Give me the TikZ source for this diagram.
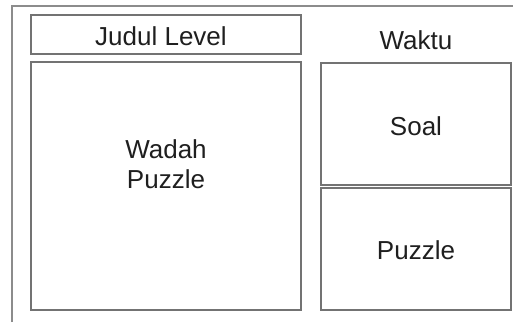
\documentclass[tikz,border=0pt]{standalone}
\usepackage{fontspec}
\setmainfont{Liberation Sans}
\begin{document}
\begin{tikzpicture}[x=1pt,y=-1pt,
  panel/.style={draw=black!55,line width=1.1pt,inner sep=0pt,outer sep=0pt,rectangle},
  lbl/.style={anchor=base,text=black!88,font=\fontsize{26}{31}\selectfont,inner sep=0pt}]
\useasboundingbox (0,0) rectangle (513,322);
\fill[white] (0,0) rectangle (513,322);
% outer frame
\draw[black!45,line width=1.3pt] (12,322) -- (12,6) -- (513,6);
% boxes
\node[panel,minimum width=270pt,minimum height=39pt] (judul) at (166,34.5) {};
\node[panel,minimum width=270pt,minimum height=248pt] (wadah) at (166,186) {};
\node[panel,minimum width=190pt,minimum height=122pt] (soal) at (416,124) {};
\node[panel,minimum width=190pt,minimum height=122pt] (puzzle) at (416,249) {};
% labels
\node[lbl] (tjudul) at (161,45) {Judul Level};
\node[lbl] (twaktu) at (416,49) {Waktu};
\node[lbl] (twadah) at (166,158) {Wadah};
\node[lbl] (tpuz1) at (166,188) {Puzzle};
\node[lbl] (tsoal) at (416,135) {Soal};
\node[lbl] (tpuz2) at (416,259) {Puzzle};
\end{tikzpicture}
\end{document}
